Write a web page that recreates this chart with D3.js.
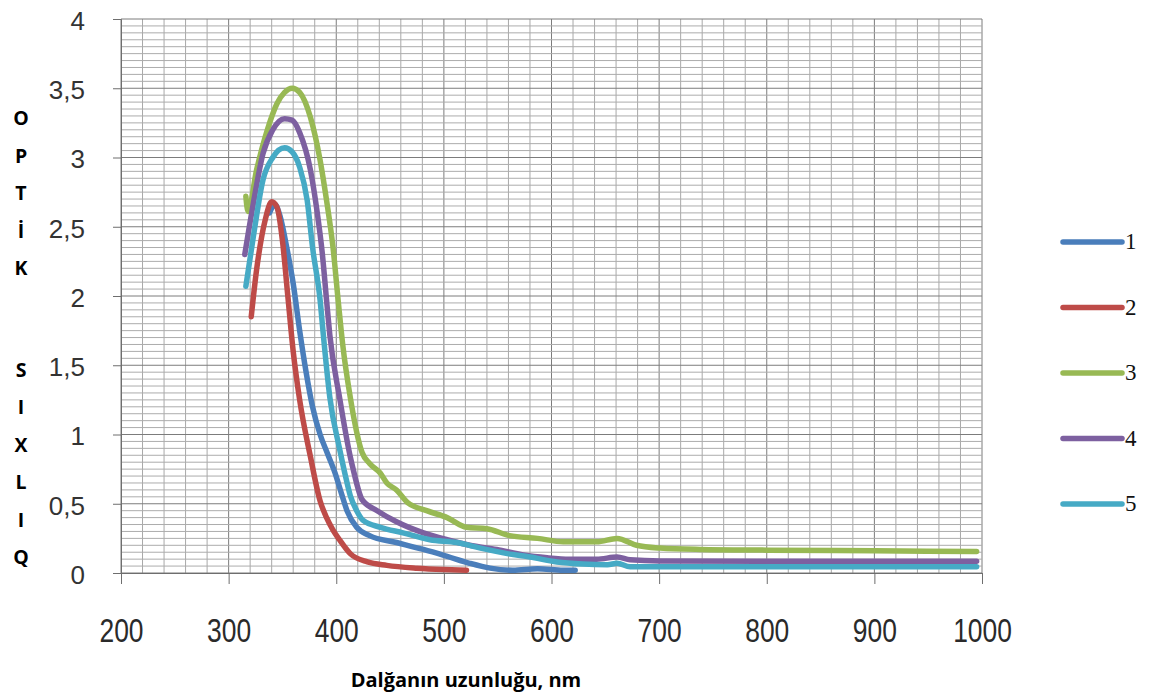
<!DOCTYPE html>
<html>
<head>
<meta charset="utf-8">
<script src="https://cdn.jsdelivr.net/npm/d3@7"></script>
<style>
    body { margin: 0; background: #fff; }
    svg { display: block; }
</style>
</head>
<body>
<svg id="chart"></svg>
<script>
const xTicks = [200, 300, 400, 500, 600, 700, 800, 900, 1000];
const yTicks = [0, 0.5, 1, 1.5, 2, 2.5, 3, 3.5, 4];
const yTitleTop = ["O", "P", "T", "İ", "K"];
const yTitleBottom = ["S", "I", "X", "L", "I", "Q"];
const xTitle = "Dalğanın uzunluğu, nm";
const seriesNames = ["1", "2", "3", "4", "5"];
const seriesColors = ["#4a7ebb", "#be4b48", "#98b954", "#7d60a0", "#46aac5"];

const wl1 = [338, 343, 348, 354, 360, 366, 372, 378, 385, 392, 399, 405, 410, 419, 431, 456, 481, 503, 524, 543, 564, 587, 611, 622];
const od1 = [2.6, 2.66, 2.57, 2.35, 2.09, 1.75, 1.45, 1.2, 1.0, 0.86, 0.72, 0.57, 0.45, 0.33, 0.27, 0.22, 0.17, 0.12, 0.07, 0.035, 0.02, 0.03, 0.02, 0.02];

const wl2 = [321, 326, 334, 340, 345, 350, 355, 360, 366, 376, 385, 391, 397, 403, 413, 429, 447, 475, 500, 521];
const od2 = [1.85, 2.19, 2.55, 2.68, 2.64, 2.4, 2.0, 1.6, 1.25, 0.84, 0.52, 0.4, 0.31, 0.24, 0.14, 0.08, 0.055, 0.035, 0.025, 0.02];

const wl3 = [316, 318, 326, 336, 345, 352, 359, 366, 376, 385, 391, 397, 402, 406, 413, 424, 431, 441, 447, 456, 466, 484, 503, 521, 540, 561, 587, 611, 642, 661, 679, 701, 738, 800, 900, 995];
const od3 = [2.72, 2.61, 2.91, 3.2, 3.39, 3.47, 3.5, 3.47, 3.29, 2.98, 2.69, 2.35, 1.95, 1.65, 1.27, 0.87, 0.79, 0.72, 0.65, 0.6, 0.51, 0.45, 0.4, 0.33, 0.32, 0.27, 0.25, 0.225, 0.225, 0.25, 0.2, 0.18, 0.17, 0.165, 0.16, 0.155];

const wl4 = [315, 323, 332, 341, 352, 359, 366, 376, 382, 387, 391, 394, 403, 413, 416, 424, 438, 456, 481, 503, 524, 549, 574, 596, 617, 642, 661, 673, 701, 800, 995];
const od4 = [2.3, 2.67, 3.03, 3.2, 3.28, 3.27, 3.18, 2.91, 2.62, 2.31, 1.97, 1.72, 1.27, 0.84, 0.74, 0.53, 0.45, 0.37, 0.29, 0.24, 0.2, 0.17, 0.13, 0.11, 0.1, 0.1, 0.115, 0.095, 0.087, 0.085, 0.085];

const wl5 = [316, 323, 332, 341, 352, 359, 366, 373, 378, 385, 388, 394, 403, 408, 413, 419, 425, 441, 462, 487, 512, 534, 559, 580, 605, 629, 652, 661, 673, 701, 995];
const od5 = [2.07, 2.43, 2.84, 3.0, 3.07, 3.04, 2.93, 2.69, 2.35, 1.97, 1.72, 1.27, 0.9, 0.72, 0.56, 0.45, 0.38, 0.33, 0.29, 0.24, 0.22, 0.18, 0.14, 0.115, 0.08, 0.065, 0.06, 0.07, 0.045, 0.045, 0.045];

(function () {
    const width = 1163, height = 699;
    const plot = {left: 121, right: 982, top: 19, bottom: 573};

    const svg = d3.select("#chart")
        .attr("width", width)
        .attr("height", height);

    const x = d3.scaleLinear().domain([200, 1000]).range([plot.left, plot.right]);
    const y = d3.scaleLinear().domain([0, 4]).range([plot.bottom, plot.top]);

    function drawGrid() {
        const g = svg.append("g");
        // minor lines every 20 nm and every 0.05, darker on the major steps
        g.selectAll(".vminor")
            .data(d3.range(200, 1001, 20))
            .enter().append("line")
            .attr("x1", d => x(d)).attr("x2", d => x(d))
            .attr("y1", plot.top).attr("y2", plot.bottom)
            .attr("stroke", d => d % 100 === 0 ? "#7c7c7c" : "#a8a8a8")
            .attr("stroke-width", 1);
        g.selectAll(".hminor")
            .data(d3.range(0, 81).map(i => i * 0.05))
            .enter().append("line")
            .attr("x1", plot.left).attr("x2", plot.right)
            .attr("y1", d => y(d)).attr("y2", d => y(d))
            .attr("stroke", (d, i) => i % 10 === 0 ? "#7c7c7c" : "#acacac")
            .attr("stroke-width", 1);
    }

    function drawAxes() {
        const xAxis = svg.append("g")
            .attr("transform", `translate(0,${plot.bottom})`)
            .call(d3.axisBottom(x).tickValues(xTicks).tickSize(11).tickFormat(d3.format("d")));
        xAxis.select(".domain").attr("stroke", "#6e6e6e");
        xAxis.selectAll(".tick line").attr("stroke", "#6e6e6e");
        xAxis.selectAll(".tick text")
            .attr("fill", "#2a2a2a")
            .attr("font-family", "'Liberation Sans', Arial, sans-serif")
            .attr("font-size", 33)
            .attr("dy", 0)
            .attr("y", 69)
            .attr("transform", "scale(0.8,1)");

        const yAxis = svg.append("g")
            .attr("transform", `translate(${plot.left},0)`)
            .call(d3.axisLeft(y).tickValues(yTicks).tickSize(8).tickPadding(28)
                .tickFormat(d => String(d).replace(".", ",")));
        yAxis.select(".domain").attr("stroke", "#6e6e6e");
        yAxis.selectAll(".tick line").attr("stroke", "#6e6e6e");
        yAxis.selectAll(".tick text")
            .attr("fill", "#333")
            .attr("font-family", "'Liberation Sans', Arial, sans-serif")
            .attr("font-size", 26)
            .attr("dy", "0.4em");
    }

    function drawSeries() {
        const wls = [wl1, wl2, wl3, wl4, wl5];
        const ods = [od1, od2, od3, od4, od5];
        const line = d3.line()
            .x(d => x(d[0]))
            .y(d => y(d[1]))
            .curve(d3.curveMonotoneX);

        seriesNames.forEach(function (name, i) {
            const pts = d3.zip(wls[i], ods[i]);
            svg.append("path")
                .datum(pts)
                .attr("d", line)
                .attr("fill", "none")
                .attr("stroke", seriesColors[i])
                .attr("stroke-width", 5.5)
                .attr("stroke-linecap", "round")
                .attr("stroke-linejoin", "round");
        });
    }

    function drawLegend() {
        const legendY = d3.scaleLinear().domain([0, 4]).range([242, 504]);
        const g = svg.append("g");
        const items = g.selectAll("g")
            .data(seriesNames)
            .enter().append("g")
            .attr("transform", (d, i) => `translate(0,${legendY(i)})`);
        items.append("line")
            .attr("x1", 1063).attr("x2", 1122)
            .attr("stroke", (d, i) => seriesColors[i])
            .attr("stroke-width", 5.5)
            .attr("stroke-linecap", "round");
        items.append("text")
            .attr("x", 1125)
            .attr("y", 7)
            .attr("font-family", "'Liberation Serif', 'Times New Roman', serif")
            .attr("font-size", 23)
            .attr("fill", "#111")
            .text(d => d);
    }

    function drawTitles() {
        svg.append("text")
            .attr("x", 466)
            .attr("y", 687)
            .attr("text-anchor", "middle")
            .attr("font-family", "'Open Sans', sans-serif")
            .attr("font-weight", "bold")
            .attr("font-size", 20)
            .attr("fill", "#000")
            .text(xTitle);

        const letters = yTitleTop.map((c, i) => ({c: c, cy: 118 + i * 37.5}))
            .concat(yTitleBottom.map((c, i) => ({c: c, cy: 370 + i * 37.4})));
        svg.append("g").selectAll("text")
            .data(letters)
            .enter().append("text")
            .attr("x", 21)
            .attr("y", d => d.cy + 7)
            .attr("text-anchor", "middle")
            .attr("font-family", "'Open Sans', sans-serif")
            .attr("font-weight", "bold")
            .attr("font-size", 19.5)
            .attr("fill", "#000")
            .text(d => d.c);
    }

    drawGrid();
    drawAxes();
    drawSeries();
    drawLegend();
    drawTitles();
})();
</script>
</body>
</html>
